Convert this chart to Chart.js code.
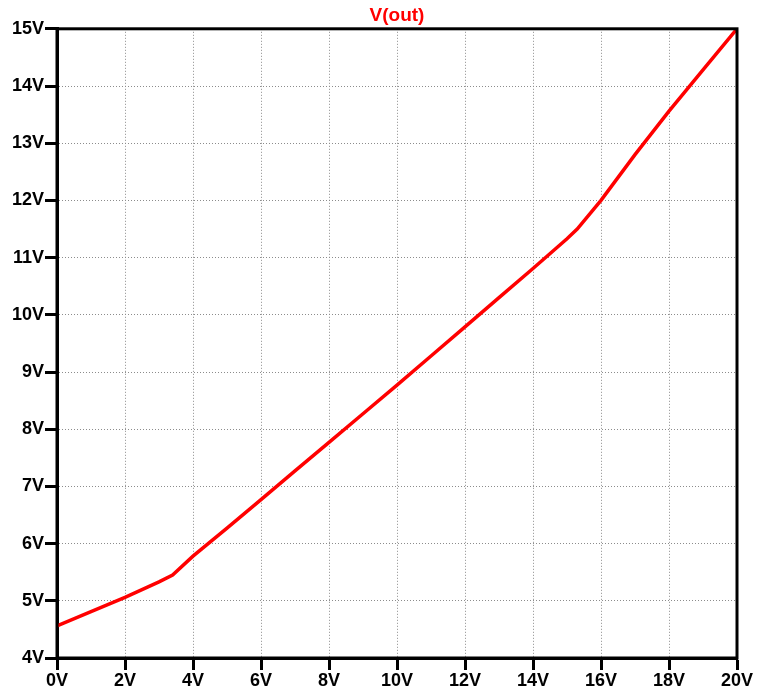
<!DOCTYPE html>
<html>
<head>
<meta charset="utf-8">
<script src="https://cdn.jsdelivr.net/npm/chart.js@4.4.0/dist/chart.umd.min.js"></script>
<style>
  html, body { margin: 0; padding: 0; background: #fff; }
  #wrap { width: 767px; height: 691px; }
</style>
</head>
<body>
<div id="wrap"><canvas id="c" width="767" height="691"></canvas></div>
<script>
// Input sweep (V) and resulting output voltage V(out)
const vin = [0, 1, 2, 3, 3.4, 4, 5, 6, 7, 8, 9, 10, 11, 12, 13, 14, 15, 15.3, 16, 17, 18, 19, 20];
const vout = [4.56, 4.81, 5.06, 5.33, 5.45, 5.78, 6.27, 6.77, 7.27, 7.77, 8.27, 8.77, 9.28, 9.79, 10.30, 10.81, 11.33, 11.50, 12.00, 12.80, 13.56, 14.28, 15.00];
const traceName = 'V(out)';
const xRange = [0, 20];
const yRange = [4, 15];

const FONT = '"Liberation Sans", Arial, sans-serif';

// Thick frame around the plot area
const frame = {
  id: 'frame',
  afterDraw(chart) {
    const a = chart.chartArea, ctx = chart.ctx;
    ctx.save();
    ctx.strokeStyle = '#000';
    ctx.lineWidth = 3;
    ctx.strokeRect(a.left, a.top, a.right - a.left, a.bottom - a.top);
    ctx.restore();
  }
};

const gridStyle = {
  color: '#8c8c8c',
  lineWidth: 1,
  tickLength: 12,
  tickColor: '#000',
  tickWidth: 3,
  tickBorderDash: []
};

// Axis line plus dotted grid dash pattern
const borderStyle = { display: true, color: '#000', width: 3, dash: [1, 2] };

new Chart(document.getElementById('c'), {
  type: 'line',
  data: {
    datasets: [{
      label: traceName,
      data: vin.map((x, i) => ({ x, y: vout[i] })),
      borderColor: '#ff0000',
      borderWidth: 3.5,
      pointRadius: 0,
      tension: 0,
      fill: false
    }]
  },
  options: {
    responsive: false,
    animation: false,
    layout: { padding: { left: 0, right: 30, top: 0, bottom: 0 } },
    plugins: {
      legend: { display: false },
      tooltip: { enabled: false },
      title: {
        display: true,
        fullSize: false,
        text: traceName,
        color: '#ff0000',
        font: { family: FONT, size: 19, weight: 'bold' },
        padding: { top: 4, bottom: 2 }
      }
    },
    scales: {
      x: {
        type: 'linear',
        min: xRange[0],
        max: xRange[1],
        afterFit(s) { s.height = 33; },
        ticks: {
          stepSize: 2,
          color: '#000',
          padding: 0,
          maxRotation: 0,
          font: { family: FONT, size: 18, weight: 'bold' },
          callback: v => v + 'V'
        },
        grid: gridStyle,
        border: borderStyle
      },
      y: {
        type: 'linear',
        min: yRange[0],
        max: yRange[1],
        afterFit(s) { s.width = 57; },
        ticks: {
          stepSize: 1,
          color: '#000',
          padding: 1,
          font: { family: FONT, size: 18, weight: 'bold' },
          callback: v => v + 'V'
        },
        grid: gridStyle,
        border: borderStyle
      }
    }
  },
  plugins: [frame]
});
</script>
</body>
</html>
